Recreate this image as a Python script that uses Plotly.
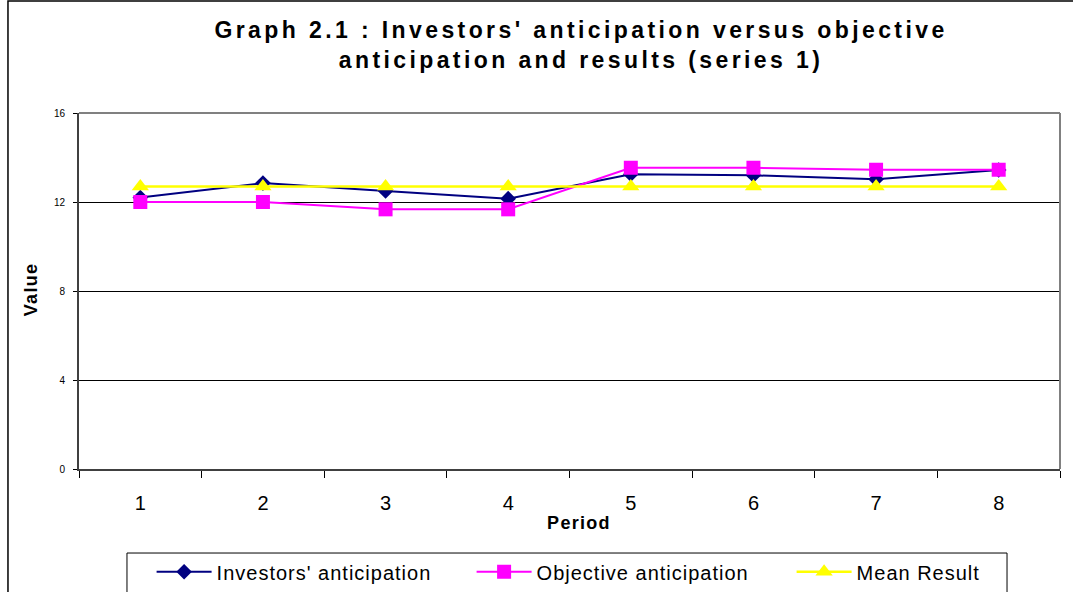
import plotly.graph_objects as go

periods = ["1", "2", "3", "4", "5", "6", "7", "8"]
investors = [12.2, 12.85, 12.5, 12.15, 13.25, 13.2, 13.02, 13.44]
objective = [12.0, 12.0, 11.67, 11.67, 13.54, 13.54, 13.45, 13.45]
mean_result = [12.7, 12.7, 12.7, 12.7, 12.7, 12.7, 12.7, 12.7]

FONT = "Liberation Sans, Arial, sans-serif"

fig = go.Figure()
fig.add_trace(go.Scatter(
    x=periods, y=investors, name="Investors' anticipation", mode="lines+markers",
    line=dict(color="#000080", width=2),
    marker=dict(symbol="diamond", size=12, color="#000080"),
))
fig.add_trace(go.Scatter(
    x=periods, y=objective, name="Objective anticipation", mode="lines+markers",
    line=dict(color="#FF00FF", width=2),
    marker=dict(symbol="square", size=14, color="#FF00FF"),
))
fig.add_trace(go.Scatter(
    x=periods, y=mean_result, name="Mean Result", mode="lines+markers",
    line=dict(color="#FFFF00", width=2.5),
    marker=dict(symbol="triangle-up", size=15, color="#FFFF00"),
))

# plot area box: x 79..1060, y 113..469 px
fig.update_layout(
    width=1073, height=592,
    margin=dict(l=79, r=13, t=113, b=123, autoexpand=False),
    paper_bgcolor="white", plot_bgcolor="white",
    font=dict(family=FONT, color="black"),
    title=dict(
        text="Graph 2.1 : Investors' anticipation versus objective<br>anticipation and results (series 1)",
        font=dict(size=23, family=FONT, weight="bold"),
        x=0.5415, xanchor="center", xref="container",
        y=0.935, yanchor="top",
    ),
    showlegend=True,
    legend=dict(
        orientation="h", x=0.074, xanchor="left", y=-0.234, yanchor="top",
        font=dict(size=20, family=FONT), itemwidth=55,
        entrywidth=250, entrywidthmode="pixels",
        bgcolor="rgba(0,0,0,0)", traceorder="normal",
    ),
    xaxis=dict(
        type="category", range=[-0.5, 7.5],
        tickson="boundaries", ticks="outside", ticklen=7, tickcolor="black",
        showgrid=False, showline=True, linecolor="#404040", linewidth=2,
        tickfont=dict(size=20), ticklabelstandoff=15,
    ),
    yaxis=dict(
        range=[0, 16], tickvals=[0, 4, 8, 12, 16],
        ticks="outside", ticklen=4, tickcolor="black",
        showgrid=True, gridcolor="black", gridwidth=1,
        showline=True, linecolor="#404040", linewidth=2,
        zeroline=False, tickfont=dict(size=10), ticklabelstandoff=6,
    ),
    annotations=[
        dict(text="Value", textangle=-90, x=-0.0489, y=0.503, xref="paper", yref="paper",
             xanchor="center", yanchor="middle",
             showarrow=False, font=dict(size=18, family=FONT, weight="bold")),
        dict(text="Period", x=0.5097, y=-0.1517, xref="paper", yref="paper",
             xanchor="center", yanchor="middle",
             showarrow=False, font=dict(size=18, family=FONT, weight="bold")),
    ],
    shapes=[
        # gray frame around plot area (top and right)
        dict(type="line", xref="paper", yref="paper", x0=0, x1=1, y0=1, y1=1,
             line=dict(color="#808080", width=2)),
        dict(type="line", xref="paper", yref="paper", x0=1, x1=1, y0=0, y1=1,
             line=dict(color="#808080", width=2)),
        # outer chart frame
        dict(type="rect", xref="paper", yref="paper", x0=-0.0724, x1=1.2, y0=-0.5, y1=1.3146,
             line=dict(color="black", width=1.5)),
        # legend box
        dict(type="rect", xref="paper", yref="paper", x0=0.0489, x1=0.946, y0=-0.45, y1=-0.236,
             line=dict(color="black", width=1)),
    ],
)

# drop the page margin so the figure sits at the window's corner,
# and widen letter spacing like the original Excel rendering
post = """
document.body.style.margin = '0';
document.querySelectorAll('.gtitle').forEach(function(t){ t.style.letterSpacing = '3.4px'; });
document.querySelectorAll('.legendtext').forEach(function(t){ t.style.letterSpacing = '1px'; });
document.querySelectorAll('.annotation-text').forEach(function(t){ t.style.letterSpacing = '1.3px'; });
"""
fig.write_html("out.html", post_script=post, config={"displayModeBar": False})
